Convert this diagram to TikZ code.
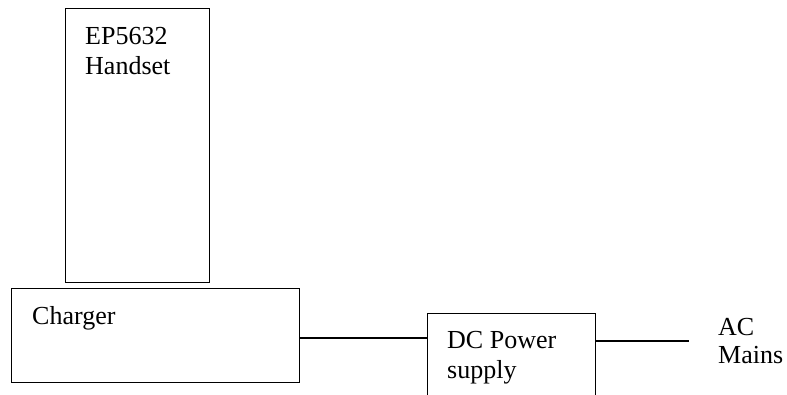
\documentclass[tikz,border=0pt]{standalone}
\usepackage{fontspec}
\setmainfont{Liberation Serif}
\begin{document}
\begin{tikzpicture}[x=1pt,y=-1pt,
  box/.style={draw,line width=1.2pt,rectangle,inner sep=0pt,anchor=north west},
  lbl/.style={inner sep=0pt,anchor=base west,font=\fontsize{26}{30}\selectfont},
  wire/.style={line width=1.2pt}]
\clip (0,0) rectangle (787,394);
\useasboundingbox (0,0) rectangle (787,394);
\node[box,minimum width=144pt,minimum height=274pt] (handset) at (65,8) {};
\node[box,minimum width=288pt,minimum height=94pt] (charger) at (11,288) {};
\node[box,minimum width=168pt,minimum height=100pt] (dc) at (427,313) {};
\node[lbl] (t1) at (85,44) {EP5632};
\node[lbl] (t2) at (85,74) {Handset};
\node[lbl] (t3) at (32,324) {Charger};
\node[lbl] (t4) at (447,348) {DC Power};
\node[lbl] (t5) at (447,378) {supply};
\node[lbl] (ac1) at (718,335) {AC};
\node[lbl] (ac2) at (718,363) {Mains};
\coordinate (acend) at (689,341);
\draw[wire] (charger.east |- 0,338) -- (dc.west |- 0,338);
\draw[wire] (dc.east |- acend) -- (acend);
\end{tikzpicture}
\end{document}
